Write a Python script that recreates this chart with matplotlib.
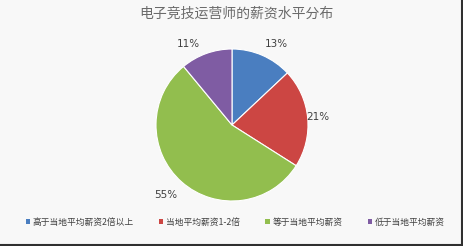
import numpy as np
import matplotlib
matplotlib.use("Agg")
import matplotlib.pyplot as plt
from matplotlib.patches import Patch
from matplotlib.lines import Line2D

plt.rcParams['font.family'] = ['Noto Sans CJK SC', 'DejaVu Sans']

title = "电子竞技运营师的薪资水平分布"
categories = ["高于当地平均薪资2倍以上", "当地平均薪资1-2倍", "等于当地平均薪资", "低于当地平均薪资"]
values = [13, 21, 55, 11]
colors = ["#4A7EC0", "#CC4643", "#92BE4E", "#7F5CA3"]

# label placement style (angular shift in degrees, radial distance)
label_shift = [-5.5, 0.0, -2.3, 8.7]
label_dist = [1.22, 1.13, 1.27, 1.21]

W, H = 463, 246
fig = plt.figure(figsize=(W / 100, H / 100), dpi=100)
fig.patch.set_facecolor("#f8f8f8")

cx, cy, r = 232, 125, 76
ax = fig.add_axes([(cx - r) / W, 1 - (cy + r) / H, 2 * r / W, 2 * r / H])
ax.set_facecolor("none")
wedges, _ = ax.pie(values, colors=colors, startangle=90, counterclock=False,
                   wedgeprops=dict(linewidth=0.8, edgecolor="white"))
ax.set_xlim(-1, 1)
ax.set_ylim(-1, 1)
ax.set_aspect("equal")
for w, v, s, d in zip(wedges, values, label_shift, label_dist):
    ang = np.deg2rad((w.theta1 + w.theta2) / 2 + s)
    ax.text(d * np.cos(ang), d * np.sin(ang), f"{v}%", ha="center", va="center",
            fontsize=7.5, color="#404040", family=["DejaVu Sans"], clip_on=False)

fig.text(cx / W + 0.01, 1 - 14 / H, title, ha="center", va="center", fontsize=10, color="#6a6a6a")

handles = [Patch(facecolor=c, edgecolor="none") for c in colors]
leg = fig.legend(handles, categories, loc="center", bbox_to_anchor=(0.508, 1 - 222 / H), ncol=4,
                 frameon=False, fontsize=6.3, handlelength=0.5, handleheight=0.5,
                 handletextpad=0.3, columnspacing=2.9, labelcolor="#404040")

# border lines at right and bottom
fig.add_artist(Line2D([1 - 1.5 / W, 1 - 1.5 / W], [0, 1], color="#303030", lw=1.5, transform=fig.transFigure))
fig.add_artist(Line2D([0, 1], [1.5 / H, 1.5 / H], color="#303030", lw=1.5, transform=fig.transFigure))

fig.savefig("out.png", dpi=100, facecolor=fig.get_facecolor())
